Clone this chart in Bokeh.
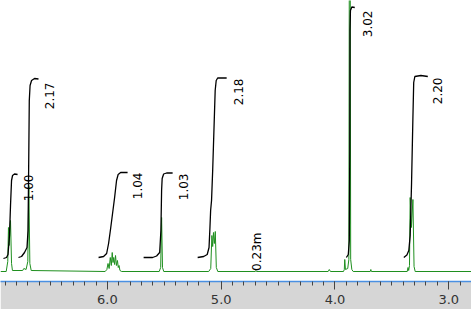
from bokeh.plotting import figure
from bokeh.models import Range1d, SingleIntervalTicker, NumeralTickFormatter, ColumnDataSource, Label
from bokeh.core.properties import value
from bokeh.embed import file_html
from bokeh.resources import INLINE
import math

# ---- spectrum (ppm, intensity) ----
spec_ppm = [6.94, 6.890, 6.876, 6.870, 6.864, 6.852, 6.843, 6.835,
            6.745, 6.735, 6.715, 6.700, 6.691, 6.682, 6.670,
            6.020, 6.005, 5.995, 5.985, 5.975, 5.966, 5.958, 5.951, 5.945, 5.937, 5.929, 5.921, 5.912, 5.905, 5.898, 5.890, 5.875,
            5.545, 5.532, 5.524, 5.516, 5.505,
            5.110, 5.092, 5.082, 5.075, 5.068, 5.060, 5.052, 5.043, 5.030,
            4.700, 4.695, 4.690,
            4.060, 4.050, 4.040, 3.925, 3.918, 3.914, 3.908, 3.888, 3.878, 3.870, 3.862, 3.852, 3.840,
            3.690, 3.685, 3.680,
            3.365, 3.358, 3.352, 3.345, 3.339, 3.328, 3.315, 3.305, 3.295, 2.80]
spec_int = [0, 0, 10, 44, 26, 51, 8, 1,
            1, 3, 2, 10, 86, 8, 1,
            0, 2, 8, 3, 14, 6, 19, 9, 14, 7, 16, 6, 11, 4, 6, 1, 0,
            0, 4, 54, 4, 0,
            0, 3, 36, 25, 39, 28, 40, 4, 0,
            0, 1, 0,
            0, 2, 0, 0, 2, 12, 2, 3, 12, 600, 12, 2, 0,
            0, 2, 0,
            0, 4, 1, 6, 74, 44, 72, 5, 0, 0]

# ---- integral curves ----
int_ppm = [
    [6.914, 6.887, 6.874, 6.861, 6.852, 6.843, 6.834, 6.817, 6.790],
    [6.782, 6.755, 6.729, 6.707, 6.698, 6.691, 6.687, 6.680, 6.667, 6.641, 6.606],
    [6.078, 6.034, 6.007, 5.990, 5.972, 5.955, 5.937, 5.920, 5.906, 5.884, 5.823],
    [5.682, 5.603, 5.568, 5.541, 5.530, 5.524, 5.519, 5.506, 5.480, 5.427],
    [5.207, 5.154, 5.123, 5.107, 5.099, 5.093, 5.085, 5.075, 5.064, 5.053, 5.044, 5.031, 4.952],
    [3.900, 3.883, 3.874, 3.870, 3.868, 3.864, 3.852, 3.826],
    [3.395, 3.368, 3.351, 3.339, 3.327, 3.315, 3.308, 3.298, 3.245, 3.184],
]
int_val = [
    [13, 14, 17, 36, 66, 91, 96, 97.5, 97],
    [14, 15, 19, 24, 41, 121, 171, 186, 191, 193, 192.5],
    [14, 15, 18, 28, 43, 58, 74, 91, 97, 99, 99],
    [14, 14, 15.5, 19, 41, 81, 93, 97.5, 98.5, 98.5],
    [14, 15, 17, 24, 44, 61, 71, 101, 141, 181, 191, 193.5, 193.5],
    [14, 17, 31, 121, 241, 261, 264.5, 264],
    [14, 16.5, 21, 36, 88, 154, 189, 195, 196, 195],
]

# ---- integral labels ----
lab_text = ["1.00", "2.17", "1.04", "1.03", "2.18", "0.23m", "3.02", "2.20"]
lab_ppm = [6.698, 6.509, 5.735, 5.334, 4.851, 4.683, 3.716, 3.096]
lab_top = [97, 189, 99, 98, 193, 39, 261, 194]

p = figure(width=471, height=309, output_backend="svg", toolbar_location=None,
           x_range=Range1d(6.94, 2.80), y_range=Range1d(-10, 271),
           min_border=0, min_border_bottom=28)
p.background_fill_color = "white"
p.border_fill_color = "#d6d6d6"
p.outline_line_color = None
p.xgrid.visible = False
p.ygrid.visible = False
p.yaxis.visible = False

ax = p.xaxis[0]
ax.ticker = SingleIntervalTicker(interval=1, num_minor_ticks=10)
ax.formatter = NumeralTickFormatter(format="0.0")
ax.axis_line_color = "#4a90e2"
ax.axis_line_width = 1.5
ax.major_tick_in = 0
ax.major_tick_out = 8
ax.minor_tick_in = 0
ax.minor_tick_out = 4
ax.major_tick_line_color = "#444444"
ax.minor_tick_line_color = "#444444"
ax.major_label_text_font = "DejaVu Sans"
ax.major_label_text_font_size = "13px"
ax.major_label_text_color = "#333333"
ax.major_label_standoff = 5

p.line(spec_ppm, spec_int, line_color="#1f8f1f", line_width=1)

for xs, ys in zip(int_ppm, int_val):
    p.line(xs, ys, line_color="black", line_width=1.3)

src = ColumnDataSource(dict(x=lab_ppm, y=lab_top, t=lab_text))
p.text(x="x", y="y", text="t", source=src, angle=math.pi / 2,
       text_align="right", text_baseline="middle",
       text_font=value("DejaVu Sans"), text_font_size="12px", text_color="black")

p.add_layout(Label(x=7.0, y=-29, text="7.0", text_align="center", text_baseline="middle",
                   text_font="DejaVu Sans", text_font_size="13px", text_color="#333333"))

open("out.html", "w").write(file_html(p, INLINE))
